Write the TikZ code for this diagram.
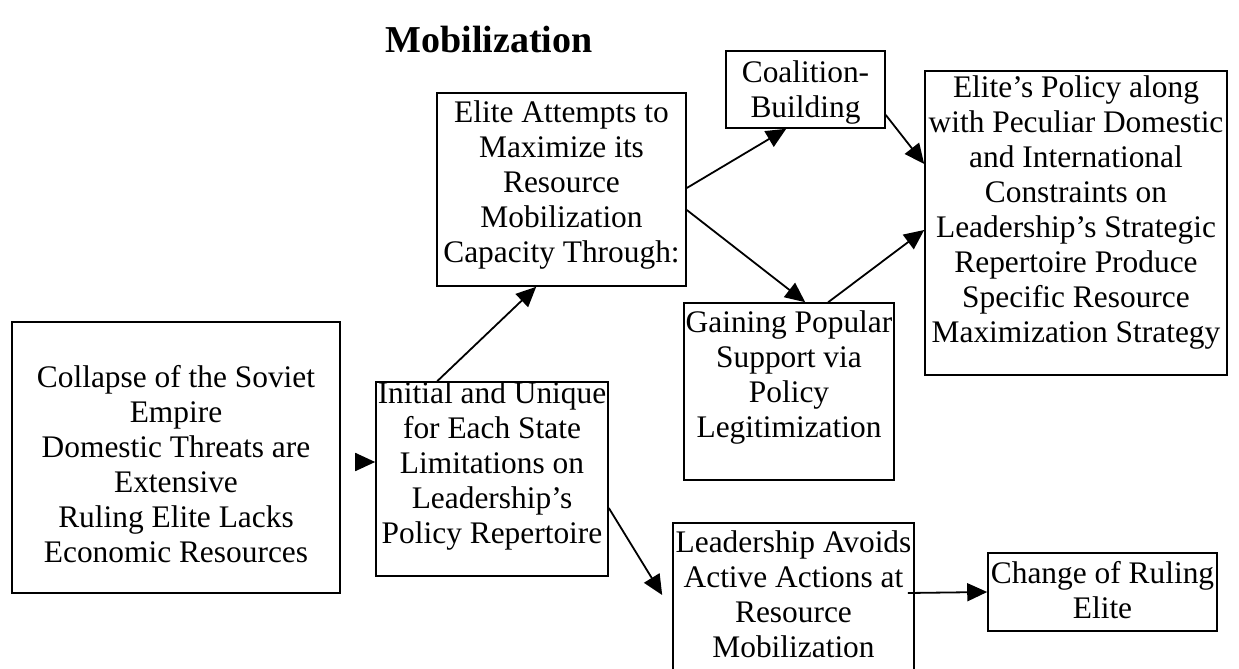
\documentclass[tikz,border=0pt]{standalone}
\usepackage{fontspec}
\setmainfont{Liberation Serif}
\usetikzlibrary{arrows.meta}
\begin{document}
\begin{tikzpicture}[x=1pt,y=-1pt,
  box/.style={draw, line width=1.6pt, inner sep=0pt},
  txt/.style={anchor=north, align=center, inner sep=0pt,
    font=\fontsize{31.4pt}{35pt}\selectfont},
  ttl/.style={inner sep=0pt, font=\fontsize{38pt}{40pt}\selectfont\bfseries},
  arr/.style={line width=1.8pt, -{Triangle[length=20pt,width=18pt]}}]
\useasboundingbox (0,0) rectangle (1239,669);
\clip (0,0) rectangle (1239,669);

% heading
\node[ttl] (title) at (489,40) {Mobilization};

% boxes
\node[box, minimum width=328pt, minimum height=271pt] (A) at (176,457.5) {};
\node[box, minimum width=232pt, minimum height=194pt] (B) at (492,479) {};
\node[box, minimum width=249pt, minimum height=193pt] (C) at (561.5,189.5) {};
\node[box, minimum width=159pt, minimum height=77pt]  (D) at (805.5,89.5) {};
\node[box, minimum width=302pt, minimum height=304pt] (E) at (1076,223) {};
\node[box, minimum width=210pt, minimum height=177pt] (F) at (789,391.5) {};
\node[box, minimum width=241pt, minimum height=149pt] (G) at (793.5,597.5) {};
\node[box, minimum width=229pt, minimum height=78pt]  (H) at (1102.5,592) {};

% box texts
\node[txt] (tA) at (176,363) {\strut Collapse of the Soviet\\Empire\\Domestic Threats are\\Extensive\\Ruling Elite Lacks\\Economic Resources};
\node[txt] (tB) at (492,379) {\strut Initial and Unique\\for Each State\\Limitations on\\Leadership’s\\Policy Repertoire};
\node[txt] (tC) at (561.5,98) {\strut Elite Attempts to\\Maximize its\\Resource\\Mobilization\\Capacity Through:};
\node[txt] (tD) at (805.5,58) {\strut Coalition-\\Building};
\node[txt] (tE) at (1076,73) {\strut Elite’s Policy along\\with Peculiar Domestic\\and International\\Constraints on\\Leadership’s Strategic\\Repertoire Produce\\Specific Resource\\Maximization Strategy};
\node[txt] (tF) at (789,308) {\strut Gaining Popular\\Support via\\Policy\\Legitimization};
\node[txt] (tG) at (793.5,528) {\strut Leadership Avoids\\Active Actions at\\Resource\\Mobilization};
\node[txt] (tH) at (1102.5,559) {\strut Change of Ruling\\Elite};

% connectors
\draw[arr] ([xshift=15pt,yshift=-4.5pt]A.east) -- ([yshift=17pt]B.west);
\draw[arr] ([xshift=62pt]B.north west) -- ([xshift=100pt]C.south west);
\draw[arr] ([yshift=1.5pt]C.east) -- ([xshift=61pt]D.south west);
\draw[arr] ([yshift=-20.5pt]C.east) -- ([xshift=122pt]F.north west);
\draw[arr] ([yshift=-25.5pt]D.east) -- ([yshift=59pt]E.west);
\draw[arr] ([xshift=145pt]F.north west) -- ([yshift=-7pt]E.west);
\draw[arr] ([yshift=-29pt]B.east) -- ([xshift=-10pt,yshift=2.5pt]G.west);
\draw[arr] ([xshift=-7pt,yshift=4.5pt]G.east) -- ([yshift=0pt]H.west);
\end{tikzpicture}
\end{document}
